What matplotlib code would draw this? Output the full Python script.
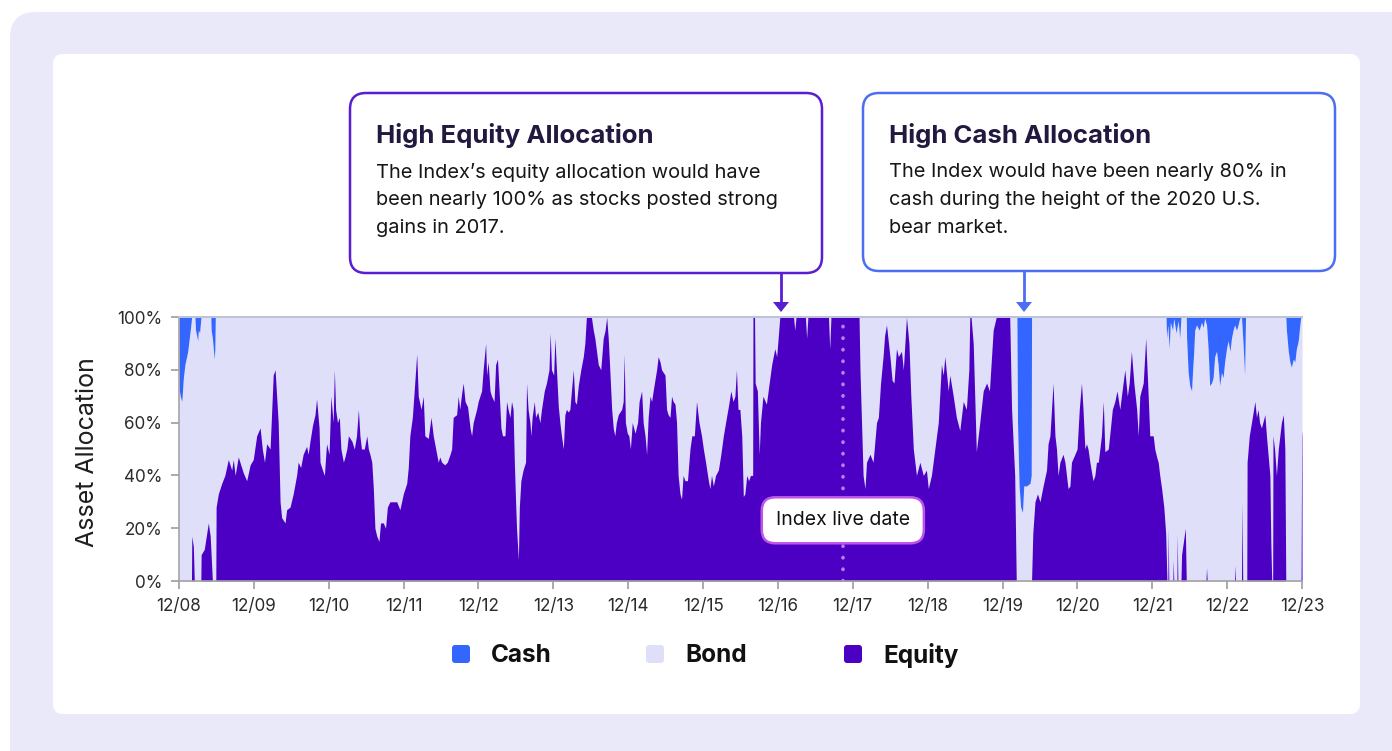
"""Index asset allocation: cash / bond / equity over time."""
import matplotlib
matplotlib.use("Agg")
import matplotlib.pyplot as plt
from matplotlib.patches import FancyBboxPatch, Polygon
import numpy as np

plt.rcParams["font.family"] = ["Inter", "DejaVu Sans"]

# x = months since Dec 2008, y = % of portfolio
equity_points = [
    (0, 0), (2.0, 0), (2.05, 17), (2.3, 13), (2.45, 0), (3.5, 0), (3.55, 10), (4.05, 12),
    (4.7, 22), (5.0, 17), (5.25, 5), (5.35, 0), (5.9, 0), (5.95, 28), (6.3, 33), (6.85, 37),
    (7.35, 40), (7.9, 46), (8.45, 42), (8.7, 46), (9.0, 40), (9.5, 47), (10.3, 41), (10.85, 38),
    (11.4, 44), (11.9, 46), (12.45, 55), (13.0, 58), (13.35, 50), (13.7, 45), (14.05, 52),
    (14.6, 50), (15.1, 78), (15.4, 80), (15.65, 70), (15.9, 60), (16.2, 30), (16.45, 24),
    (17.0, 22), (17.25, 27), (17.8, 28), (18.3, 33), (18.85, 40), (19.1, 45), (19.5, 43),
    (19.9, 48), (20.45, 51), (20.7, 48), (21.0, 53), (21.4, 59), (21.8, 63), (22.05, 69),
    (22.45, 58), (22.6, 45), (23.0, 42), (23.3, 40), (23.65, 52), (24.05, 48), (24.35, 70),
    (24.7, 60), (24.9, 80), (25.1, 65), (25.4, 60), (25.7, 62), (25.95, 50), (26.35, 45),
    (26.6, 47), (26.9, 50), (27.15, 55), (27.7, 53), (28.1, 50), (28.45, 55), (28.75, 65),
    (29.0, 55), (29.25, 50), (29.7, 50), (30.1, 55), (30.35, 50), (30.6, 48), (30.9, 45),
    (31.15, 35), (31.4, 20), (31.7, 17), (32.05, 15), (32.3, 22), (32.75, 22), (33.1, 20),
    (33.4, 28), (33.8, 30), (34.35, 30), (34.9, 30), (35.4, 27), (35.95, 33), (36.5, 37),
    (36.75, 43), (37.0, 55), (37.4, 62), (37.7, 72), (38.1, 86), (38.35, 70), (38.8, 65),
    (39.15, 70), (39.4, 55), (39.95, 54), (40.4, 62), (40.75, 55), (41.15, 50), (41.55, 45),
    (41.8, 47), (42.1, 45), (42.6, 44), (43.0, 45), (43.45, 48), (43.7, 50), (43.95, 62),
    (44.5, 63), (44.75, 70), (45.0, 65), (45.3, 71), (45.55, 75), (45.85, 68), (46.25, 66),
    (46.65, 58), (46.9, 55), (47.15, 60), (47.7, 65), (47.95, 68), (48.5, 72), (48.75, 80),
    (49.15, 90), (49.3, 78), (49.55, 83), (49.85, 72), (50.1, 70), (50.5, 68), (50.75, 82),
    (51.05, 84), (51.35, 70), (51.6, 58), (51.85, 55), (52.25, 55), (52.5, 68), (52.75, 65),
    (53.05, 62), (53.3, 68), (53.55, 65), (53.75, 45), (53.95, 30), (54.1, 20), (54.4, 8),
    (54.55, 28), (54.8, 38), (55.15, 42), (55.55, 45), (55.7, 75), (55.95, 65), (56.25, 60),
    (56.4, 55), (56.6, 62), (56.95, 68), (57.15, 62), (57.5, 64), (57.85, 60), (58.1, 65),
    (58.55, 72), (58.9, 75), (59.3, 80), (59.5, 94), (59.7, 80), (60.05, 78), (60.25, 92),
    (60.5, 80), (60.8, 66), (61.05, 60), (61.3, 55), (61.6, 50), (61.85, 63), (62.1, 65),
    (62.4, 64), (62.65, 65), (62.9, 72), (63.2, 80), (63.45, 68), (63.7, 67), (64.0, 74),
    (64.4, 80), (64.8, 85), (65.05, 90), (65.3, 100), (66.1, 100), (66.4, 95), (66.65, 92),
    (67.2, 82), (67.6, 80), (68.0, 92), (68.3, 95), (68.55, 100), (68.8, 92), (69.05, 80),
    (69.35, 65), (69.6, 58), (69.85, 55), (70.1, 60), (70.4, 63), (70.95, 65), (71.2, 68),
    (71.35, 86), (71.55, 60), (71.85, 56), (72.1, 55), (72.35, 50), (72.65, 60), (73.1, 56),
    (73.5, 60), (73.75, 68), (74.15, 72), (74.4, 60), (74.7, 55), (74.95, 48), (75.2, 62),
    (75.5, 70), (75.75, 68), (76.0, 72), (76.55, 80), (76.8, 85), (77.1, 83), (77.35, 80),
    (77.9, 78), (78.15, 65), (78.4, 63), (78.7, 62), (78.95, 70), (79.2, 68), (79.5, 67),
    (79.75, 60), (80.0, 40), (80.3, 33), (80.55, 31), (80.8, 40), (81.1, 38), (81.5, 38),
    (81.9, 50), (82.2, 55), (82.6, 55), (82.95, 68), (83.35, 60), (83.75, 55), (84.05, 50),
    (84.4, 45), (84.85, 38), (85.1, 35), (85.35, 40), (85.65, 36), (86.0, 40), (86.45, 42),
    (86.85, 48), (87.25, 55), (87.75, 62), (88.05, 66), (88.45, 72), (88.8, 68), (89.1, 70),
    (89.35, 80), (89.6, 65), (89.9, 65), (90.2, 55), (90.45, 32), (90.7, 33), (91.0, 40),
    (91.3, 38), (91.6, 40), (91.95, 40), (92.0, 100), (92.25, 100), (92.35, 75), (92.7, 72),
    (93.0, 48), (93.2, 60), (93.6, 70), (94.15, 67), (94.6, 75), (95.0, 82), (95.5, 88),
    (95.8, 85), (96.3, 100), (98.5, 100), (98.7, 95), (98.9, 100), (100.4, 100), (100.6, 92),
    (100.8, 100), (104.1, 100), (104.3, 88), (104.5, 100), (109.0, 100), (109.15, 80),
    (109.4, 60), (109.65, 40), (109.95, 35), (110.2, 45), (110.75, 48), (111.25, 45),
    (111.8, 60), (112.1, 62), (112.45, 75), (112.85, 85), (113.1, 93), (113.4, 97),
    (113.95, 85), (114.3, 76), (114.6, 75), (115.0, 88), (115.3, 85), (115.8, 87), (116.1, 80),
    (116.35, 90), (116.6, 100), (117.0, 90), (117.3, 70), (117.7, 50), (118.2, 40),
    (118.75, 45), (119.3, 40), (119.8, 42), (120.1, 35), (120.6, 40), (121.15, 50),
    (121.7, 60), (122.2, 82), (122.5, 78), (122.75, 85), (123.3, 72), (123.55, 78),
    (124.1, 70), (124.6, 62), (125.15, 57), (125.7, 68), (126.2, 65), (126.6, 80),
    (126.75, 100), (126.95, 100), (127.3, 90), (127.8, 49), (128.35, 60), (128.9, 72),
    (129.45, 75), (129.9, 72), (130.5, 95), (131.0, 100), (133.15, 100), (133.45, 65),
    (133.95, 40), (134.2, 0), (136.65, 0), (136.85, 18), (137.2, 30), (137.6, 33), (138.0, 30),
    (138.5, 36), (139.05, 42), (139.3, 52), (139.6, 55), (139.85, 65), (140.1, 75),
    (140.4, 55), (140.65, 50), (140.9, 40), (141.2, 45), (141.7, 48), (142.0, 45),
    (142.25, 40), (142.5, 35), (142.8, 36), (143.05, 45), (143.6, 48), (143.95, 50),
    (144.3, 65), (144.65, 75), (144.9, 65), (145.2, 50), (145.45, 52), (145.7, 50),
    (146.0, 45), (146.5, 38), (146.8, 40), (147.05, 45), (147.35, 45), (147.6, 50),
    (147.85, 55), (148.15, 68), (148.4, 49), (148.95, 50), (149.3, 58), (149.6, 65),
    (150.0, 68), (150.35, 72), (150.8, 65), (151.05, 70), (151.6, 80), (152.0, 70),
    (152.3, 75), (152.65, 87), (153.05, 75), (153.5, 65), (153.75, 55), (154.0, 70),
    (154.55, 75), (154.95, 92), (155.35, 70), (155.6, 55), (156.15, 55), (156.4, 50),
    (156.7, 47), (156.95, 45), (157.2, 40), (157.5, 35), (157.85, 28), (158.15, 18),
    (158.35, 0), (158.5, 0), (158.55, 20), (158.65, 0), (159.3, 0), (159.35, 8), (159.45, 0),
    (159.95, 0), (160.0, 18), (160.1, 0), (160.6, 0), (160.7, 10), (161.0, 15), (161.3, 20),
    (161.45, 0), (164.6, 0), (164.7, 5), (164.8, 0), (169.2, 0), (169.25, 6), (169.35, 0),
    (170.3, 0), (170.4, 30), (170.5, 0), (171.15, 0), (171.2, 45), (171.55, 55), (171.9, 60),
    (172.45, 68), (172.7, 62), (172.95, 65), (173.2, 60), (173.5, 58), (174.05, 63),
    (174.3, 55), (174.85, 40), (175.0, 15), (175.15, 0), (175.3, 0), (175.35, 55),
    (175.6, 50), (175.9, 40), (176.2, 50), (176.45, 55), (176.7, 60), (177.0, 63),
    (177.25, 50), (177.4, 0), (179.85, 0), (179.95, 55), (180.0, 57),
]

cash_points = [
    (0, 27), (0.2, 30), (0.45, 32), (0.7, 23), (0.95, 18), (1.4, 13), (1.75, 6), (1.95, 2),
    (2.02, 0), (2.55, 0), (2.65, 5), (3.0, 9), (3.1, 5), (3.3, 6), (3.45, 2), (3.52, 0),
    (5.1, 0), (5.15, 5), (5.35, 8), (5.65, 16), (5.75, 12), (5.82, 0),
    (134.3, 0), (134.4, 40), (134.65, 64), (134.9, 72), (135.2, 74), (135.4, 64),
    (135.85, 64), (136.4, 63), (136.6, 60), (136.65, 0),
    (158.2, 0), (158.3, 8), (158.5, 3), (158.7, 12), (158.9, 2), (159.25, 5), (159.45, 0.5),
    (159.8, 6), (160.15, 1.5), (160.4, 8), (160.6, 0), (161.45, 0), (161.5, 8), (161.75, 21),
    (162.0, 26), (162.3, 28), (162.45, 21), (162.65, 13), (162.8, 5), (163.1, 3), (163.5, 5),
    (163.9, 2), (164.15, 4), (164.4, 0.5), (164.7, 3), (164.95, 12), (165.2, 26),
    (165.5, 25), (165.75, 23), (166.0, 15), (166.3, 13), (166.55, 18), (166.8, 26),
    (167.1, 21), (167.35, 23), (167.6, 17), (167.9, 12), (168.15, 9), (168.45, 13),
    (168.7, 8), (168.95, 5), (169.2, 3), (169.5, 5), (169.75, 3), (170.0, 0.5), (170.3, 0),
    (170.55, 10), (170.8, 22), (170.95, 0), (177.4, 0), (177.5, 5), (177.8, 13),
    (178.05, 17), (178.3, 19), (178.6, 16), (178.85, 17), (179.1, 12), (179.4, 9),
    (179.65, 3), (179.8, 0), (180, 0),
]

x_ticks = list(range(0, 181, 12))
x_labels = ["12/08", "12/09", "12/10", "12/11", "12/12", "12/13", "12/14", "12/15",
            "12/16", "12/17", "12/18", "12/19", "12/20", "12/21", "12/22", "12/23"]
y_ticks = [0, 20, 40, 60, 80, 100]
live_month = 106.4

CASH = "#3366FF"
BOND = "#DFDFF9"
EQUITY = "#4C00C4"

equity_month, equity_pct = np.array(equity_points).T
cash_month, cash_pct = np.array(cash_points).T

W, H = 1392, 751
fig = plt.figure(figsize=(W / 100, H / 100), dpi=100)

# background panels + callouts in pixel coordinates
bg = fig.add_axes([0, 0, 1, 1], zorder=0)
bg.set_xlim(0, W)
bg.set_ylim(H, 0)
bg.axis("off")
bg.add_patch(FancyBboxPatch((10, 12), 1420, 780, boxstyle="round,pad=0,rounding_size=26",
                            fc="#EAE9F9", ec="none"))
bg.add_patch(FancyBboxPatch((53, 54), 1307, 660, boxstyle="round,pad=0,rounding_size=10",
                            fc="white", ec="none"))


def callout(x0, x1, y0, y1, px, color, title, body):
    bg.add_patch(FancyBboxPatch((x0, y0), x1 - x0, y1 - y0,
                                boxstyle="round,pad=0,rounding_size=16",
                                fc="white", ec=color, lw=1.8))
    bg.plot([px, px], [y1, 304], color=color, lw=2, solid_capstyle="butt")
    bg.add_patch(Polygon([(px - 8, 302), (px + 8, 302), (px, 312)], closed=True,
                         fc=color, ec="none"))
    bg.text(x0 + 26, y0 + 43, title, fontsize=18.5, fontweight="bold", color="#23183F",
            va="center", ha="left")
    for i, line in enumerate(body):
        bg.text(x0 + 26, y0 + 79 + 28 * i, line, fontsize=14.4, color="#161616",
                va="center", ha="left")


callout(350, 822, 93, 273, 781, "#5A1ED2", "High Equity Allocation",
        ["The Index\u2019s equity allocation would have",
         "been nearly 100% as stocks posted strong",
         "gains in 2017."])
callout(863, 1335, 93, 271, 1024, "#4B6EF2", "High Cash Allocation",
        ["The Index would have been nearly 80% in",
         "cash during the height of the 2020 U.S.",
         "bear market."])

bg.text(88, 452, "Asset Allocation", rotation=90, fontsize=18, color="#1E1E1E",
        ha="center", va="center")

# legend
for lx, label, col in [(461, "Cash", CASH), (655, "Bond", BOND), (853, "Equity", EQUITY)]:
    bg.add_patch(FancyBboxPatch((lx - 9, 645), 18, 18, boxstyle="round,pad=0,rounding_size=3",
                                fc=col, ec="none"))
    bg.text(lx + 30, 655, label, fontsize=17.5, fontweight="bold", color="#111111",
            ha="left", va="center")

# main chart
ax = fig.add_axes([179 / W, 1 - 581 / H, 1123 / W, 264 / H], zorder=2)
ax.fill_between(cash_month, 0, 100 - cash_pct, color=BOND, lw=0)
ax.fill_between(equity_month, 0, equity_pct, color=EQUITY, lw=0)
ax.fill_between(cash_month, 100 - cash_pct, 100, color=CASH, lw=0)

ax.axvline(live_month, color="#C77BEA", lw=2.6, linestyle=(0, (0.1, 3.1)),
           dash_capstyle="round", zorder=3)
ax.text(live_month, 23, "Index live date", fontsize=14, color="#111111",
        ha="center", va="center", zorder=4,
        bbox=dict(boxstyle="round,pad=0.72,rounding_size=0.7", fc="white",
                  ec="#BE55E8", lw=1.8))

ax.set_xlim(0, 180)
ax.set_ylim(0, 100)
ax.set_xticks(x_ticks)
ax.set_xticklabels(x_labels)
ax.set_yticks(y_ticks)
ax.set_yticklabels([f"{v}%" for v in y_ticks])
ax.tick_params(axis="both", colors="#9C9C9C", labelcolor="#2A2A2A", labelsize=12.3,
               length=6, width=1.2)
ax.tick_params(axis="x", pad=6)
ax.tick_params(axis="y", pad=6)
for side in ["left", "bottom"]:
    ax.spines[side].set_color("#A3A3A3")
    ax.spines[side].set_linewidth(1.2)
ax.spines["top"].set_color("#BCC2D6")
ax.spines["top"].set_linewidth(1.4)
ax.spines["right"].set_visible(False)

fig.savefig("out.png", dpi=100)
